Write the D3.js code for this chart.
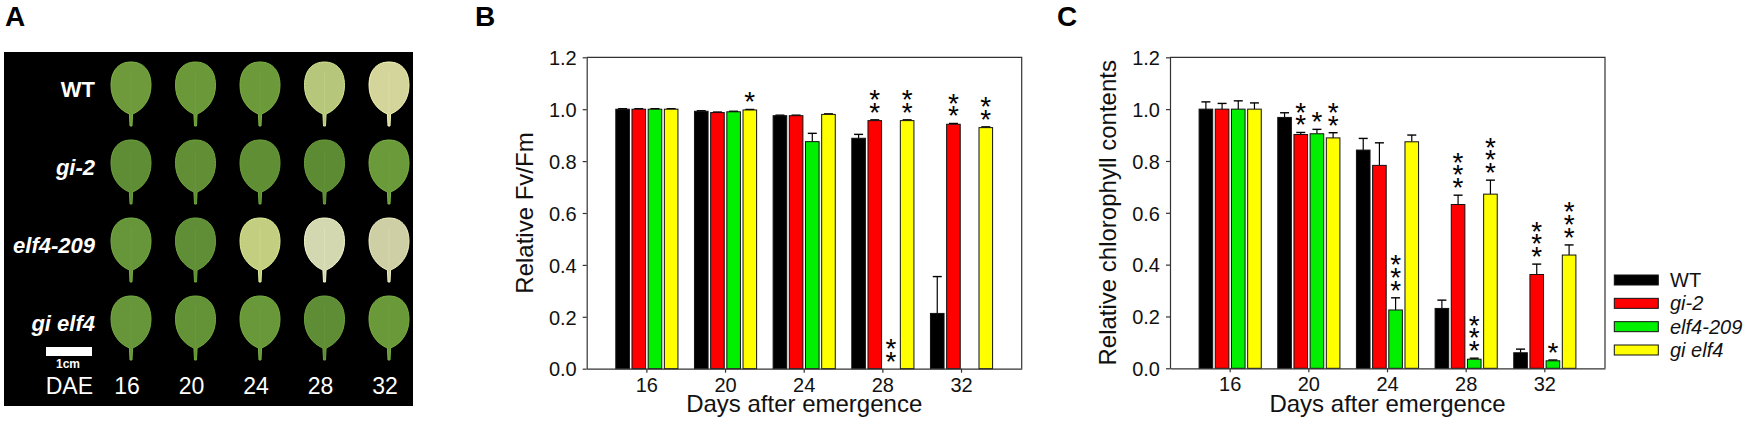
<!DOCTYPE html>
<html>
<head>
<meta charset="utf-8">
<script src="https://cdn.jsdelivr.net/npm/d3@7"></script>
<style>
  html, body { margin: 0; padding: 0; background: #fff; }
  svg { display: block; font-family: "Liberation Sans", Arial, sans-serif; }
</style>
</head>
<body>
<svg id="chart" width="1744" height="424"></svg>
<script>
// ---------------- DATA ----------------
const days = ["16", "20", "24", "28", "32"];
const genotypes = ["WT", "gi-2", "elf4-209", "gi elf4"];
const yTicks = [0, 0.2, 0.4, 0.6, 0.8, 1.0, 1.2];

// Panel B: relative Fv/Fm
const fvfmWT      = [1.000, 0.992, 0.975, 0.888, 0.213];
const fvfmGi2     = [1.000, 0.987, 0.975, 0.956, 0.942];
const fvfmElf4    = [1.000, 0.990, 0.875, 0.000, 0.000];
const fvfmGiElf4  = [1.000, 0.997, 0.980, 0.956, 0.929];
const fvfmErrWT     = [0.002, 0.002, 0.002, 0.015, 0.142];
const fvfmErrGi2    = [0.002, 0.002, 0.002, 0.003, 0.003];
const fvfmErrElf4   = [0.002, 0.002, 0.032, 0.000, 0.000];
const fvfmErrGiElf4 = [0.002, 0.002, 0.002, 0.003, 0.003];
const fvfmStarsWT     = [0, 0, 0, 0, 0];
const fvfmStarsGi2    = [0, 0, 0, 2, 2];
const fvfmStarsElf4   = [0, 0, 0, 2, 0];
const fvfmStarsGiElf4 = [0, 1, 0, 2, 2];

// Panel C: relative chlorophyll contents
const chlWT      = [1.000, 0.968, 0.842, 0.231, 0.060];
const chlGi2     = [1.000, 0.902, 0.783, 0.632, 0.362];
const chlElf4    = [1.000, 0.905, 0.225, 0.035, 0.029];
const chlGiElf4  = [1.000, 0.889, 0.874, 0.672, 0.437];
const chlErrWT     = [0.028, 0.018, 0.045, 0.032, 0.014];
const chlErrGi2    = [0.022, 0.008, 0.087, 0.036, 0.040];
const chlErrElf4   = [0.032, 0.017, 0.047, 0.004, 0.003];
const chlErrGiElf4 = [0.024, 0.020, 0.026, 0.054, 0.039];
const chlStarsWT     = [0, 0, 0, 0, 0];
const chlStarsGi2    = [0, 2, 0, 3, 3];
const chlStarsElf4   = [0, 1, 3, 3, 1];
const chlStarsGiElf4 = [0, 2, 0, 3, 3];

// Panel A: leaf colours (rows = genotypes, columns = days)
const leafWT     = ["#6e9a3b", "#6b9838", "#6c9a3a", "#b6c77c", "#d4d59b"];
const leafGi2    = ["#5f8d35", "#628f36", "#5f8e34", "#5d8b33", "#6b9a3b"];
const leafElf4   = ["#67963a", "#5f8e36", "#c3ce80", "#d4d8b0", "#cfcfa6"];
const leafGiElf4 = ["#66953a", "#649337", "#68983a", "#5f8d35", "#6a993a"];

const barColors = ["#000000", "#ff0000", "#00f000", "#ffff00"];

// ---------------- DRAW ----------------
const svg = d3.select("#chart");
const FONT = '"Liberation Sans", Arial, sans-serif';

// Panel letters
[["A", 5], ["B", 475], ["C", 1057]].forEach(([t, x]) => {
  svg.append("text").attr("x", x).attr("y", 26).attr("font-size", 28)
    .attr("font-weight", "bold").attr("fill", "#000").text(t);
});

// ---------- Panel A (leaf photo rendering) ----------
(function panelA() {
  const g = svg.append("g");
  g.append("rect").attr("x", 4).attr("y", 52).attr("width", 409).attr("height", 354).attr("fill", "#000");
  const colX = d3.scalePoint().domain(days).range([131, 389]);
  const rowY = d3.scalePoint().domain(genotypes).range([88, 322]);
  const leafRows = [leafWT, leafGi2, leafElf4, leafGiElf4];
  const w = 40, h = 52, pet = 12;
  const leafPath = (w, h) => {
    const p = d3.path();
    p.moveTo(-1.6, h / 2);
    p.bezierCurveTo(-w * 0.3, h * 0.42, -w / 2, h * 0.22, -w / 2, -h * 0.05);
    p.bezierCurveTo(-w / 2, -h * 0.36, -w * 0.28, -h / 2, 0, -h / 2);
    p.bezierCurveTo(w * 0.28, -h / 2, w / 2, -h * 0.36, w / 2, -h * 0.05);
    p.bezierCurveTo(w / 2, h * 0.22, w * 0.3, h * 0.42, 1.6, h / 2);
    p.lineTo(1.0, h / 2 + pet);
    p.lineTo(-1.0, h / 2 + pet);
    p.closePath();
    return p.toString();
  };
  genotypes.forEach((gt, i) => {
    days.forEach((d, j) => {
      const c = leafRows[i][j];
      g.append("path")
        .attr("d", leafPath(w, h))
        .attr("transform", `translate(${colX(d)},${rowY(gt)})`)
        .attr("fill", c)
        .attr("stroke", d3.color(c).brighter(0.4))
        .attr("stroke-width", 1);
      g.append("line")
        .attr("x1", colX(d)).attr("x2", colX(d))
        .attr("y1", rowY(gt) - h * 0.3).attr("y2", rowY(gt) + h / 2)
        .attr("stroke", d3.color(c).brighter(0.25)).attr("stroke-width", 0.8).attr("opacity", 0.6);
    });
    g.append("text")
      .attr("x", 95).attr("y", rowY(gt) + 9)
      .attr("text-anchor", "end").attr("fill", "#fff")
      .attr("font-size", 22).attr("font-weight", "bold")
      .attr("font-style", i === 0 ? "normal" : "italic")
      .text(gt);
  });
  g.append("rect").attr("x", 46).attr("y", 347).attr("width", 46).attr("height", 9).attr("fill", "#fff");
  g.append("text").attr("x", 68).attr("y", 368).attr("text-anchor", "middle")
    .attr("fill", "#fff").attr("font-size", 12).attr("font-weight", "bold").text("1cm");
  g.append("text").attr("x", 93).attr("y", 394).attr("text-anchor", "end")
    .attr("fill", "#fff").attr("font-size", 23).text("DAE");
  days.forEach(d => {
    g.append("text").attr("x", colX(d) - 4).attr("y", 394).attr("text-anchor", "middle")
      .attr("fill", "#fff").attr("font-size", 23).text(d);
  });
})();

// ---------- Bar panels ----------
function barPanel(opts) {
  const { left, top, width, height, series, errs, stars, yLabel, yLabelX } = opts;
  const g = svg.append("g").attr("transform", `translate(${left},${top})`);
  const x0 = d3.scaleBand().domain(days).range([0, width]).paddingInner(0.21).paddingOuter(0.37);
  const x1 = d3.scaleBand().domain(genotypes).range([0, x0.bandwidth()]).paddingInner(0.16);
  const y = d3.scaleLinear().domain([0, 1.2]).range([height, 0]);

  const rows = [];
  genotypes.forEach((gt, i) => {
    days.forEach((d, j) => {
      rows.push({ gt, i, d, v: series[i][j], e: errs[i][j], s: stars[i][j] });
    });
  });

  g.append("path").attr("d", `M0,0H${width}V${height}`).attr("fill", "none").attr("stroke", "#333").attr("stroke-width", 1.2);

  const eb = g.append("g");
  rows.filter(r => r.e > 0 || r.v > 0).forEach(r => {
    const cx = x0(r.d) + x1(r.gt) + x1.bandwidth() / 2;
    const yTop = y(r.v + r.e);
    eb.append("line").attr("x1", cx).attr("x2", cx).attr("y1", y(r.v)).attr("y2", yTop)
      .attr("stroke", "#000").attr("stroke-width", 1.2);
    eb.append("line").attr("x1", cx - 4.5).attr("x2", cx + 4.5).attr("y1", yTop).attr("y2", yTop)
      .attr("stroke", "#000").attr("stroke-width", 1.4);
  });

  g.append("g").selectAll("rect").data(rows.filter(r => r.v > 0)).join("rect")
    .attr("x", r => x0(r.d) + x1(r.gt))
    .attr("y", r => y(r.v))
    .attr("width", x1.bandwidth())
    .attr("height", r => y(0) - y(r.v))
    .attr("fill", r => barColors[r.i])
    .attr("stroke", "#111").attr("stroke-width", 1);

  // significance asterisks (one text per asterisk, stacked)
  const sg = g.append("g");
  rows.filter(r => r.s > 0).forEach(r => {
    const cx = x0(r.d) + x1(r.gt) + x1.bandwidth() / 2;
    const base = y(r.v + r.e) - 13.5;
    for (let k = 0; k < r.s; k++) {
      const cy = base - k * 12.7;
      sg.append("text").attr("x", cx).attr("y", cy + 0.55 * 28).attr("font-size", 28)
        .attr("text-anchor", "middle").attr("fill", "#000").text("*");
    }
  });

  const ya = g.append("g").call(d3.axisLeft(y).tickValues(yTicks).tickFormat(d3.format(".1f")).tickSize(4).tickSizeOuter(0).tickPadding(6));
  const xa = g.append("g").attr("transform", `translate(0,${height})`)
    .call(d3.axisBottom(x0).tickSize(4).tickSizeOuter(0).tickPadding(5));
  [ya, xa].forEach(a => {
    a.select(".domain").attr("stroke", "#333").attr("stroke-width", 1.2);
    a.selectAll(".tick line").attr("stroke", "#333").attr("stroke-width", 1.2);
    a.selectAll(".tick text").attr("font-size", 20).attr("font-family", FONT).attr("fill", "#111");
  });
  ya.selectAll(".tick text").attr("dy", "0.36em");
  xa.selectAll(".tick text").attr("dy", "0.71em");

  g.append("text").attr("x", width / 2).attr("y", 411.7 - top).attr("text-anchor", "middle")
    .attr("font-size", 24).attr("fill", "#111").text("Days after emergence");
  g.append("text").attr("transform", `translate(${yLabelX - left},${height / 2}) rotate(-90)`)
    .attr("text-anchor", "middle").attr("font-size", 24).attr("fill", "#111").text(yLabel);
  return g;
}

barPanel({
  left: 586.7, top: 57.3, width: 435, height: 311.4,
  series: [fvfmWT, fvfmGi2, fvfmElf4, fvfmGiElf4],
  errs: [fvfmErrWT, fvfmErrGi2, fvfmErrElf4, fvfmErrGiElf4],
  stars: [fvfmStarsWT, fvfmStarsGi2, fvfmStarsElf4, fvfmStarsGiElf4],
  yLabel: "Relative Fv/Fm", yLabelX: 533
});

barPanel({
  left: 1170, top: 57.3, width: 435, height: 311,
  series: [chlWT, chlGi2, chlElf4, chlGiElf4],
  errs: [chlErrWT, chlErrGi2, chlErrElf4, chlErrGiElf4],
  stars: [chlStarsWT, chlStarsGi2, chlStarsElf4, chlStarsGiElf4],
  yLabel: "Relative chlorophyll contents", yLabelX: 1116
});

const lg = svg.append("g");
const legY = d3.scalePoint().domain(genotypes).range([280, 350]);
genotypes.forEach((gt, i) => {
  lg.append("rect").attr("x", 1614.3).attr("y", legY(gt) - 5).attr("width", 44).attr("height", 10)
    .attr("fill", barColors[i]).attr("stroke", "#111").attr("stroke-width", 1);
  lg.append("text").attr("x", 1670).attr("y", legY(gt) + 7).attr("font-size", 20)
    .attr("font-style", i === 0 ? "normal" : "italic").attr("fill", "#111").text(gt);
});
</script>
</body>
</html>
